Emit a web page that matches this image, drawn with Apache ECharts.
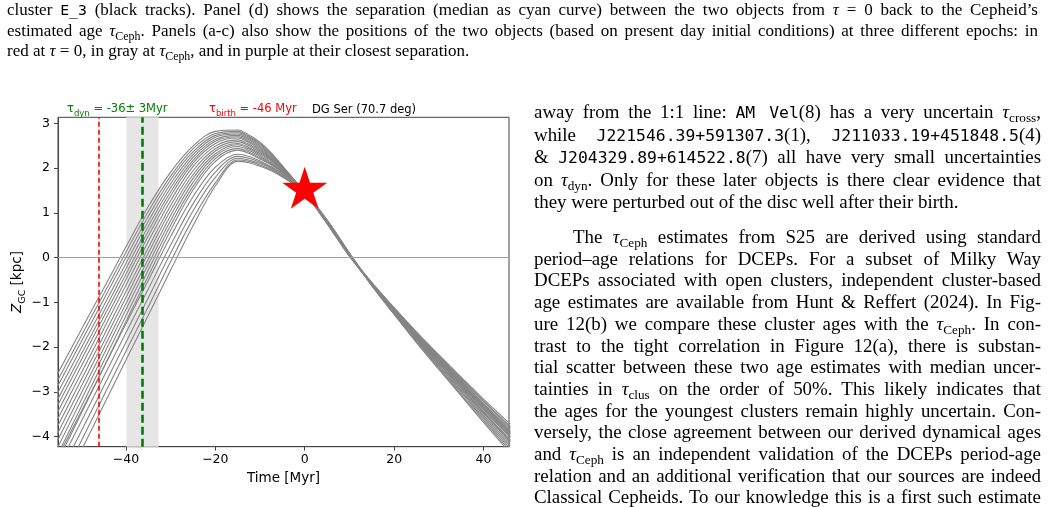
<!DOCTYPE html>
<html>
<head>
<meta charset="utf-8">
<script src="https://cdn.jsdelivr.net/npm/echarts@6/dist/echarts.min.js"></script>
<style>
  html, body { margin: 0; padding: 0; background: #fff; }
  body { width: 1057px; height: 507px; position: relative; overflow: hidden;
         font-family: "Liberation Serif", "Times New Roman", serif; color: #000; }
  #chart { position: absolute; left: 0; top: 0; width: 1057px; height: 507px; }
  .block { position: absolute; z-index: 2; }
  .cap { font-size: 17px; }
  .col { font-size: 18.9px; }
  .ln { text-align: justify; text-align-last: justify; }
  .last { text-align: left; text-align-last: left; }
  .tt { font-family: "DejaVu Sans Mono", monospace; font-size: 16.4px; }
  .tt2 { font-family: "DejaVu Sans Mono", monospace; font-size: 14.8px; }
  sub { font-size: 0.7em; vertical-align: -0.3em; line-height: 0; }
  i { font-style: italic; }
</style>
</head>
<body>
<div id="chart"></div>

<div class="block cap" style="left:7px; top:0px; width:1031px; line-height:20.5px;">
  <div class="ln">cluster <span class="tt2">E_3</span> (black tracks). Panel (d) shows the separation (median as cyan curve) between the two objects from <i>τ</i> = 0 back to the Cepheid’s</div>
  <div class="ln">estimated age <i>τ</i><sub>Ceph</sub>. Panels (a-c) also show the positions of the two objects (based on present day initial conditions) at three different epochs: in</div>
  <div class="last">red at <i>τ</i> = 0, in gray at <i>τ</i><sub>Ceph</sub>, and in purple at their closest separation.</div>
</div>

<div class="block col" style="left:534px; top:101px; width:507px; line-height:21.7px;">
  <div class="ln">away from the 1:1 line: <span class="tt">AM Vel</span>(8) has a very uncertain <i>τ</i><sub>cross</sub>,</div>
  <div class="ln">while <span class="tt">J221546.39+591307.3</span>(1), <span class="tt">J211033.19+451848.5</span>(4)</div>
  <div class="ln">&amp; <span class="tt">J204329.89+614522.8</span>(7) all have very small uncertainties</div>
  <div class="ln">on <i>τ</i><sub>dyn</sub>. Only for these later objects is there clear evidence that</div>
  <div class="last">they were perturbed out of the disc well after their birth.</div>
</div>

<div class="block col" style="left:534px; top:226px; width:507px; line-height:21.7px;">
  <div class="ln" style="padding-left:39px;">The <i>τ</i><sub>Ceph</sub> estimates from S25 are derived using standard</div>
  <div class="ln">period–age relations for DCEPs. For a subset of Milky Way</div>
  <div class="ln">DCEPs associated with open clusters, independent cluster-based</div>
  <div class="ln">age estimates are available from Hunt &amp; Reffert (2024). In Fig-</div>
  <div class="ln">ure 12(b) we compare these cluster ages with the <i>τ</i><sub>Ceph</sub>. In con-</div>
  <div class="ln">trast to the tight correlation in Figure 12(a), there is substan-</div>
  <div class="ln">tial scatter between these two age estimates with median uncer-</div>
  <div class="ln">tainties in <i>τ</i><sub>clus</sub> on the order of 50%. This likely indicates that</div>
  <div class="ln">the ages for the youngest clusters remain highly uncertain. Con-</div>
  <div class="ln">versely, the close agreement between our derived dynamical ages</div>
  <div class="ln">and <i>τ</i><sub>Ceph</sub> is an independent validation of the DCEPs period-age</div>
  <div class="ln">relation and an additional verification that our sources are indeed</div>
  <div class="ln">Classical Cepheids. To our knowledge this is a first such estimate</div>
</div>

<script>
// orbit tracks Z_GC (kpc) sampled at these times (Myr)
const times = [-56, -50, -45, -40, -35, -30, -25, -20, -15, -12.5, -10, -7.5, -5, 0, 5, 10, 15, 20, 25, 30, 35, 40, 46];

const track01 = [-2.73, -1.61, -0.69, 0.24, 1.14, 1.91, 2.49, 2.82, 2.85, 2.74, 2.58, 2.34, 2.05, 1.45, 0.76, 0.03, -0.56, -1.12, -1.66, -2.17, -2.67, -3.16, -3.72];
const track02 = [-2.88, -1.75, -0.82, 0.12, 1.03, 1.82, 2.43, 2.77, 2.82, 2.71, 2.55, 2.32, 2.04, 1.45, 0.76, 0.03, -0.58, -1.16, -1.72, -2.25, -2.76, -3.28, -3.87];
const track03 = [-3.01, -1.88, -0.94, 0.00, 0.92, 1.74, 2.36, 2.73, 2.79, 2.69, 2.53, 2.30, 2.03, 1.45, 0.77, 0.04, -0.60, -1.20, -1.79, -2.35, -2.89, -3.44, -4.07];
const track04 = [-3.16, -2.02, -1.08, -0.13, 0.81, 1.65, 2.30, 2.69, 2.76, 2.66, 2.50, 2.28, 2.02, 1.45, 0.77, 0.04, -0.57, -1.14, -1.69, -2.21, -2.72, -3.22, -3.80];
const track05 = [-3.31, -2.16, -1.21, -0.25, 0.70, 1.56, 2.24, 2.64, 2.73, 2.63, 2.47, 2.26, 2.01, 1.45, 0.78, 0.05, -0.59, -1.19, -1.77, -2.32, -2.86, -3.40, -4.02];
const track06 = [-3.44, -2.29, -1.33, -0.37, 0.59, 1.47, 2.17, 2.60, 2.70, 2.60, 2.44, 2.24, 2.00, 1.45, 0.78, 0.05, -0.61, -1.22, -1.82, -2.40, -2.96, -3.52, -4.17];
const track07 = [-3.59, -2.43, -1.46, -0.49, 0.48, 1.38, 2.11, 2.55, 2.67, 2.57, 2.41, 2.22, 1.98, 1.45, 0.79, 0.06, -0.58, -1.17, -1.73, -2.27, -2.80, -3.32, -3.92];
const track08 = [-3.75, -2.58, -1.60, -0.62, 0.36, 1.27, 2.03, 2.49, 2.63, 2.53, 2.38, 2.20, 1.97, 1.45, 0.79, 0.06, -0.62, -1.25, -1.86, -2.45, -3.02, -3.60, -4.27];
const track09 = [-3.91, -2.73, -1.75, -0.76, 0.22, 1.16, 1.94, 2.43, 2.59, 2.50, 2.35, 2.18, 1.96, 1.45, 0.80, 0.06, -0.58, -1.18, -1.75, -2.30, -2.83, -3.36, -3.97];
const track10 = [-4.07, -2.88, -1.89, -0.89, 0.10, 1.05, 1.85, 2.38, 2.55, 2.46, 2.32, 2.16, 1.95, 1.45, 0.80, 0.07, -0.60, -1.21, -1.81, -2.37, -2.93, -3.48, -4.12];
const track11 = [-4.23, -3.03, -2.03, -1.03, -0.03, 0.94, 1.77, 2.32, 2.52, 2.43, 2.29, 2.13, 1.93, 1.45, 0.81, 0.07, -0.56, -1.13, -1.68, -2.20, -2.70, -3.20, -3.77];
const track12 = [-4.39, -3.18, -2.17, -1.16, -0.15, 0.83, 1.68, 2.27, 2.48, 2.40, 2.26, 2.11, 1.92, 1.45, 0.81, 0.07, -0.62, -1.26, -1.88, -2.47, -3.06, -3.64, -4.32];
const track13 = [-4.55, -3.33, -2.32, -1.30, -0.28, 0.72, 1.59, 2.21, 2.44, 2.36, 2.23, 2.09, 1.91, 1.45, 0.82, 0.08, -0.58, -1.17, -1.74, -2.28, -2.81, -3.34, -3.94];
const track14 = [-4.71, -3.48, -2.46, -1.43, -0.41, 0.61, 1.51, 2.15, 2.40, 2.33, 2.20, 2.07, 1.90, 1.45, 0.82, 0.08, -0.61, -1.23, -1.84, -2.42, -2.99, -3.56, -4.22];
const track15 = [-4.61, -3.44, -2.46, -1.48, -0.51, 0.47, 1.36, 2.02, 2.31, 2.26, 2.16, 2.03, 1.87, 1.45, 0.82, 0.08, -0.57, -1.15, -1.71, -2.23, -2.74, -3.26, -3.84];
const track16 = [-4.84, -3.66, -2.67, -1.68, -0.70, 0.28, 1.20, 1.91, 2.26, 2.22, 2.13, 2.01, 1.86, 1.45, 0.83, 0.09, -0.60, -1.21, -1.80, -2.36, -2.91, -3.46, -4.10];
const track17 = [-5.06, -3.88, -2.88, -1.89, -0.90, 0.10, 1.04, 1.79, 2.22, 2.18, 2.10, 1.99, 1.84, 1.45, 0.83, 0.09, -0.58, -1.16, -1.73, -2.26, -2.78, -3.30, -3.90];
const track18 = [-5.29, -4.10, -3.09, -2.09, -1.10, -0.09, 0.87, 1.67, 2.18, 2.15, 2.07, 1.96, 1.82, 1.45, 0.84, 0.10, -0.63, -1.27, -1.90, -2.50, -3.09, -3.68, -4.37];
const track19 = [-5.51, -4.31, -3.30, -2.29, -1.29, -0.28, 0.71, 1.60, 2.15, 2.12, 2.04, 1.94, 1.80, 1.45, 0.84, 0.10, -0.59, -1.19, -1.76, -2.31, -2.85, -3.38, -4.00];

const tracks = [track01, track02, track03, track04, track05, track06, track07, track08, track09, track10,
                track11, track12, track13, track14, track15, track16, track17, track18, track19];

const tauDyn = -36.3;
const tauDynBand = [-39.9, -32.7];
const tauBirth = -46;
const starNow = [0, 1.56];

const xTicks = [-40, -20, 0, 20, 40];
const yTicks = [-4, -3, -2, -1, 0, 1, 2, 3];

const minus = v => (v < 0 ? '\u2212' + Math.abs(v) : String(v));

const chart = echarts.init(document.getElementById('chart'));

let series = [];

// shaded tau_dyn uncertainty + zero line
series.push({
    type: 'line', data: [], z: 1, silent: true,
    markArea: {
        silent: true,
        itemStyle: { color: '#e6e6e6' },
        data: [[{ xAxis: tauDynBand[0] }, { xAxis: tauDynBand[1] }]]
    },
    markLine: {
        silent: true, symbol: 'none', label: { show: false },
        lineStyle: { color: '#a0a0a0', width: 1, type: 'solid' },
        data: [{ yAxis: 0 }]
    }
});

tracks.forEach(tr => {
    series.push({
        type: 'line',
        data: times.map((t, i) => [t, tr[i]]),
        smooth: 0.35,
        symbol: 'none',
        silent: true,
        z: 3,
        lineStyle: { color: '#858585', width: 1.1 }
    });
});

// tau_birth and tau_dyn markers
series.push({
    type: 'line', data: [], z: 5, silent: true,
    markLine: {
        silent: true, symbol: 'none', label: { show: false },
        data: [
            { xAxis: tauBirth, lineStyle: { color: '#ff0000', width: 1.6, type: [5, 3] } },
            { xAxis: tauDyn, lineStyle: { color: '#008000', width: 2.6, type: [8, 4] } }
        ]
    }
});

series.push({
    type: 'scatter',
    data: [starNow],
    z: 6,
    silent: true,
    symbol: 'path://M50,0 L61.2,34.5 L97.6,34.5 L68.2,55.9 L79.4,90.5 L50,69.1 L20.6,90.5 L31.8,55.9 L2.4,34.5 L38.8,34.5 Z',
    symbolSize: [45, 42],
    itemStyle: { color: '#ff0000', opacity: 1 }
});

const tickFont = { fontFamily: 'DejaVu Sans', fontSize: 12.5, color: '#000' };

const option = {
    animation: false,
    backgroundColor: 'transparent',
    grid: { left: 58, top: 117.3, right: 548, bottom: 60.3, show: true, borderColor: '#444', borderWidth: 1 },
    xAxis: {
        type: 'value', min: -55.2, max: 45.7,
        splitLine: { show: false },
        axisLine: { show: true, onZero: false, lineStyle: { color: '#444', width: 1 } },
        axisTick: { show: true, length: 4, customValues: xTicks, lineStyle: { color: '#444' } },
        axisLabel: Object.assign({ customValues: xTicks, margin: 7, formatter: minus }, tickFont),
        name: 'Time [Myr]', nameLocation: 'middle', nameGap: 23,
        nameTextStyle: { fontFamily: 'DejaVu Sans', fontSize: 13.5, color: '#000' }
    },
    yAxis: {
        type: 'value', min: -4.225, max: 3.134,
        splitLine: { show: false },
        axisLine: { show: true, onZero: false, lineStyle: { color: '#444', width: 1 } },
        axisTick: { show: true, length: 4, customValues: yTicks, lineStyle: { color: '#444' } },
        axisLabel: Object.assign({ customValues: yTicks, margin: 8, formatter: minus }, tickFont),
        name: '{z|Z}{s|GC}{k| [kpc]}', nameLocation: 'middle', nameGap: 30,
        nameTextStyle: {
            fontFamily: 'DejaVu Sans', fontSize: 13.5, color: '#000',
            rich: {
                z: { fontStyle: 'italic', fontSize: 13.5, fontFamily: 'DejaVu Sans', lineHeight: 16, verticalAlign: 'top' },
                s: { fontSize: 9.5, fontFamily: 'DejaVu Sans', lineHeight: 10, padding: [7, 0, 0, 0], verticalAlign: 'top' },
                k: { fontSize: 13.5, fontFamily: 'DejaVu Sans', lineHeight: 16, verticalAlign: 'top' }
            }
        }
    },
    graphic: [
        {
            type: 'text', left: 67, top: 103,
            style: {
                text: '{t|τ}{s|dyn}{t| = -36± 3Myr}', fill: '#008000',
                rich: {
                    t: { fontFamily: 'DejaVu Sans', fontSize: 11.5, lineHeight: 14, verticalAlign: 'top', fill: '#008000' },
                    s: { fontFamily: 'DejaVu Sans', fontSize: 8.5, lineHeight: 9, padding: [6, 0, 0, 0], verticalAlign: 'top', fill: '#008000' }
                }
            }
        },
        {
            type: 'text', left: 209, top: 103,
            style: {
                text: '{t|τ}{s|birth}{t| = -46 Myr}', fill: '#ff0000',
                rich: {
                    t: { fontFamily: 'DejaVu Sans', fontSize: 11.5, lineHeight: 14, verticalAlign: 'top', fill: '#ff0000' },
                    s: { fontFamily: 'DejaVu Sans', fontSize: 8.5, lineHeight: 9, padding: [6, 0, 0, 0], verticalAlign: 'top', fill: '#ff0000' }
                }
            }
        },
        {
            type: 'text', left: 312, top: 103,
            style: { text: 'DG Ser (70.7 deg)', fill: '#000', font: '11.5px "DejaVu Sans"', lineHeight: 14 }
        }
    ],
    series: series
};

chart.setOption(option);
</script>
</body>
</html>
